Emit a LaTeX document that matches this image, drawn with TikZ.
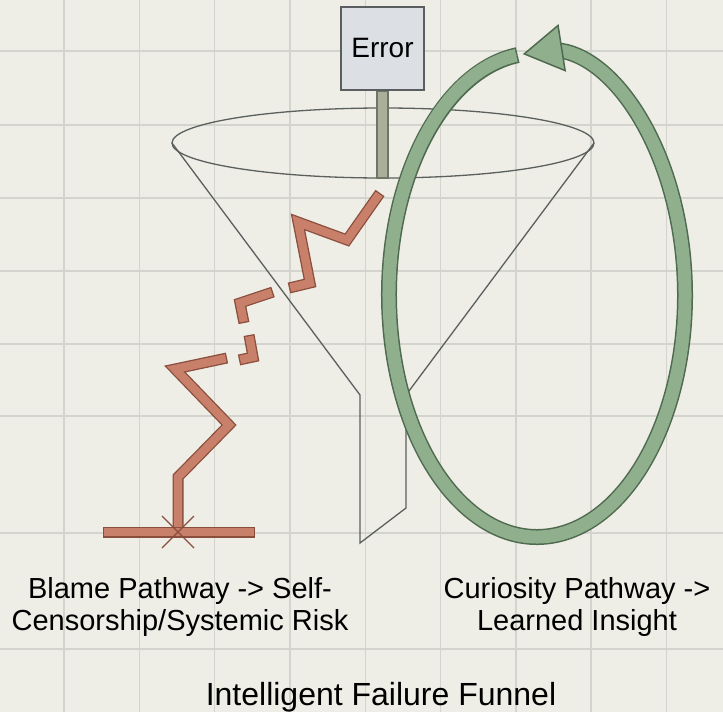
\documentclass[tikz,border=0pt]{standalone}
\usepackage{fontspec}
\setmainfont{Liberation Sans}
\usetikzlibrary{arrows.meta, positioning, calc}

\definecolor{paper}{HTML}{EEEEE7}
\definecolor{gridgray}{HTML}{D3D4CE}
\definecolor{funnelgray}{HTML}{5B605C}
\definecolor{errorfill}{HTML}{DCE0E5}
\definecolor{errordraw}{HTML}{5A5E60}
\definecolor{stemfill}{HTML}{A9AF99}
\definecolor{stemdraw}{HTML}{6E7466}
\definecolor{blamefill}{HTML}{C9806A}
\definecolor{blamedraw}{HTML}{8A4E3C}
\definecolor{loopfill}{HTML}{8FAF8D}
\definecolor{loopdraw}{HTML}{4F6A4F}

\begin{document}
\begin{tikzpicture}[
  x=1pt, y=-1pt,
  gridline/.style={gridgray, line width=1.4pt},
  funnel/.style={funnelgray, line width=1.3pt, line join=miter},
  errbox/.style={draw=errordraw, fill=errorfill, line width=1.3pt, minimum width=83pt, minimum height=83pt, inner sep=0pt, font=\fontsize{28}{32}\selectfont},
  stembar/.style={draw=stemdraw, fill=stemfill, line width=1.2pt},
  blameedge/.style={draw=blamedraw, line width=11pt, line join=miter, shorten <=0pt, shorten >=0pt},
  blameband/.style={draw=blamefill, line width=8.4pt, line join=miter, shorten <=1.3pt, shorten >=1.3pt, preaction={blameedge}},
  loopedge/.style={draw=loopdraw, line width=16pt, shorten >=22pt},
  loopband/.style={draw=loopfill, line width=13pt, shorten <=1.5pt, shorten >=22pt},
  loophead/.style={draw=loopfill, line width=0.5pt, -{Triangle[length=40pt, width=48pt, color=loopdraw, fill=loopfill, line width=1.5pt]}},
  pathlabel/.style={align=center, inner sep=0pt, font=\fontsize{29}{32}\selectfont},
  heading/.style={inner sep=0pt, font=\fontsize{32}{36}\selectfont}
]
\fill[paper] (0,0) rectangle (723,712);
\useasboundingbox (0,0) rectangle (723,712);
\foreach \gx in {64,139.3,...,667} \draw[gridline] (\gx,0) -- (\gx,712);
\foreach \gy in {51,125,198,271,344,416,533,649} \draw[gridline] (0,\gy) -- (723,\gy);

\coordinate (rimc) at (383,143);
\coordinate (rimL) at (172,143);
\coordinate (rimR) at (594,143);
\coordinate (neckL) at (360,395);
\coordinate (neckR) at (406,395);
\coordinate (tipL) at (360,543);
\coordinate (tipR) at (406,508);
\draw[funnel] (rimc) ellipse [x radius=211, y radius=35];
\draw[funnel] (rimL) -- (neckL) -- (tipL) -- (tipR) -- (neckR) -- (rimR);

\node[errbox] at (382.5,48.5) (err) {Error};
\filldraw[stembar] ($(err.south)+(-5.5,0.7)$) rectangle (388,178);

\draw[blameband] (380,193) -- (347,240) -- (298,222) -- (310,283) -- (289,288);
\draw[blameband] (273,292) -- (240,303) -- (244,323);
\draw[blameband] (249,335) -- (253,357) -- (239,360);
\draw[blameband] (227,358) -- (175,369) -- (229,425) -- (178,477) -- (178,531);
\coordinate (blamex) at (178,532);
\draw[blameband] (103,532) -- (255,532);
\draw[blamedraw, line width=1.3pt] ($(blamex)+(-16,-16)$) -- ($(blamex)+(16,16)$)
  ($(blamex)+(-16,16)$) -- ($(blamex)+(16,-16)$);

\coordinate (loopc) at (537,295);
\coordinate (looptail) at ($(loopc)+(262.5:148 and 242)$);
\draw[loopedge] (looptail) arc[start angle=262.5, end angle=-95.5, x radius=148, y radius=242];
\draw[loopband] (looptail) arc[start angle=262.5, end angle=-95.5, x radius=148, y radius=242];
\draw[loophead] (looptail) arc[start angle=262.5, end angle=-95.5, x radius=148, y radius=242];

\node[pathlabel] at (180,606.5) (blame) {Blame Pathway -> Self-\\Censorship/Systemic Risk};
\node[pathlabel] at (577,606.5) (curious) {Curiosity Pathway ->\\Learned Insight};
\node[heading, anchor=base] at (381,705) (title) {Intelligent Failure Funnel};
\end{tikzpicture}
\end{document}
